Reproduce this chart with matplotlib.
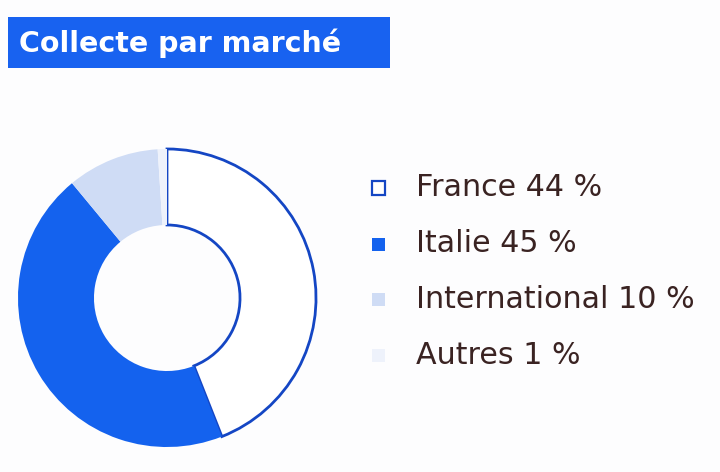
import matplotlib
matplotlib.use("Agg")
import matplotlib.pyplot as plt
from matplotlib.patches import Rectangle

title = "Collecte par marché"
categories = ["France", "Italie", "International", "Autres"]
values = [44, 45, 10, 1]
labels = ["France 44 %", "Italie 45 %", "International 10 %", "Autres 1 %"]
colors = ["#ffffff", "#1462ee", "#cfdcf5", "#eef2fb"]
edge_france = "#1446c4"

W, H = 720, 472
fig = plt.figure(figsize=(W / 100, H / 100), dpi=100)
fig.patch.set_facecolor("#fdfdfe")

# donut
cx, cy, r = 167, 298, 152
ax = fig.add_axes([(cx - r) / W, (H - cy - r) / H, 2 * r / W, 2 * r / H])
wedges, _ = ax.pie(values, colors=colors, startangle=90, counterclock=False,
                   wedgeprops=dict(width=0.51, linewidth=0))
wedges[0].set_edgecolor(edge_france)
wedges[0].set_linewidth(2)
ax.set_xlim(-1.02, 1.02)
ax.set_ylim(-1.02, 1.02)
ax.set_aspect("equal")
ax.axis("off")

# title box
fig.patches.append(Rectangle((8 / W, (H - 68) / H), (390 - 8) / W, (68 - 17) / H,
                             transform=fig.transFigure, facecolor="#1862f0",
                             edgecolor="none"))
fig.text(19 / W, (H - 43) / H, title, color="white", fontsize=20.5,
         fontfamily="DejaVu Sans", fontweight="bold", va="center", ha="left")

# legend
ys = [188, 244, 299, 355]
for lab, col, y, i in zip(labels, colors, ys, range(4)):
    s = 13
    fig.patches.append(Rectangle(((378 - s / 2) / W, (H - y - s / 2) / H), s / W, s / H,
                                 transform=fig.transFigure, facecolor=col,
                                 edgecolor=edge_france if i == 0 else "none",
                                 linewidth=1.6))
    fig.text(416 / W, (H - y) / H, lab, color="#3a2322", fontsize=21.7,
             fontfamily="DejaVu Sans", va="center", ha="left")

fig.savefig("out.png", dpi=100, facecolor=fig.get_facecolor())
